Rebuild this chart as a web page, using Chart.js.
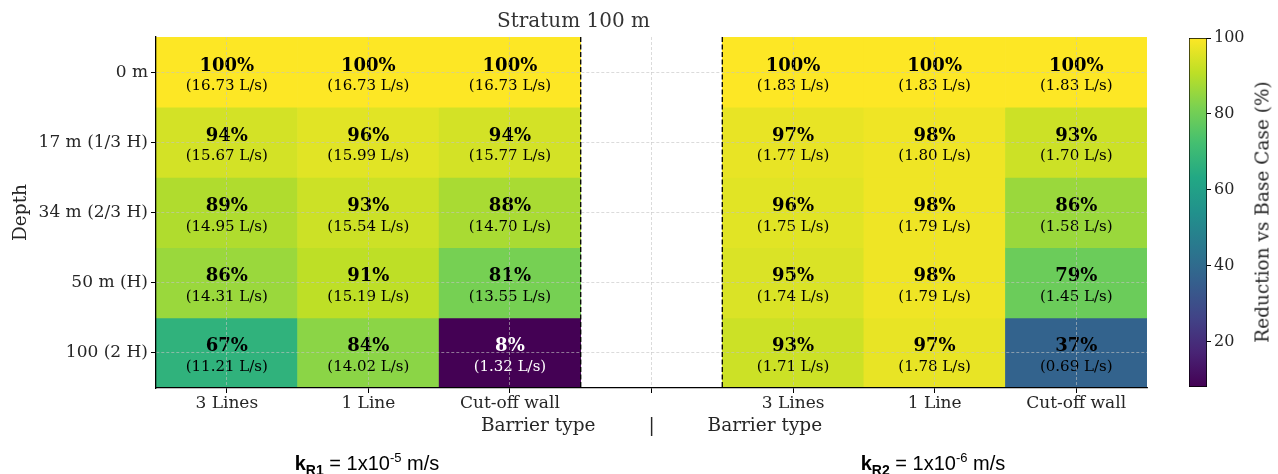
<!DOCTYPE html>
<html><head><meta charset="utf-8">
<script src="https://cdn.jsdelivr.net/npm/chart.js@4"></script>
<style>
html,body{margin:0;padding:0;background:#fff;}
#wrap{position:relative;width:1278px;height:474px;overflow:hidden;background:#fff;}
#main{position:absolute;left:0;top:0;}
#cbar{position:absolute;left:1150px;top:0;}
.k{position:absolute;font-family:'Liberation Sans',Arial,sans-serif;font-size:20px;line-height:24px;color:#000;white-space:nowrap;transform:translateX(-50%);}
.k b{font-weight:bold}
.k .sb{position:relative;top:5px;font-size:14px;font-weight:bold}
.k .sp{position:relative;top:-8px;font-size:13px}
#cbt{position:absolute;font-family:'DejaVu Serif',serif;font-size:18.5px;color:#262626;white-space:nowrap;left:1262px;top:212px;transform:translate(-50%,-50%) rotate(-90deg);}
</style></head>
<body><div id="wrap">
<canvas id="main" width="1278" height="474"></canvas>
<canvas id="cbar" width="128" height="474"></canvas>
<div class="k" style="left:367px;top:451px"><b>k</b><span class="sb">R1</span> = 1x10<span class="sp">-5</span> m/s</div>
<div class="k" style="left:933px;top:451px"><b>k</b><span class="sb">R2</span> = 1x10<span class="sp">-6</span> m/s</div>
<div id="cbt">Reduction vs Base Case (%)</div>
</div>
<script>
// ---- data ----
const depthLabels = ['0 m', '17 m (1/3 H)', '34 m (2/3 H)', '50 m (H)', '100 (2 H)'];
const xTickLabels = ['3 Lines', '1 Line', 'Cut-off wall', '', '3 Lines', '1 Line', 'Cut-off wall'];

const pctKR1_3Lines = [100, 94, 89, 86, 67];
const pctKR1_1Line  = [100, 96, 93, 91, 84];
const pctKR1_Wall   = [100, 94, 88, 81, 8];
const flowKR1_3Lines = [16.73, 15.67, 14.95, 14.31, 11.21];
const flowKR1_1Line  = [16.73, 15.99, 15.54, 15.19, 14.02];
const flowKR1_Wall   = [16.73, 15.77, 14.70, 13.55, 1.32];

const pctKR2_3Lines = [100, 97, 96, 95, 93];
const pctKR2_1Line  = [100, 98, 98, 98, 97];
const pctKR2_Wall   = [100, 93, 86, 79, 37];
const flowKR2_3Lines = [1.83, 1.77, 1.75, 1.74, 1.71];
const flowKR2_1Line  = [1.83, 1.80, 1.79, 1.79, 1.78];
const flowKR2_Wall   = [1.83, 1.70, 1.58, 1.45, 0.69];

const colorbarMin = 8;
const colorbarMax = 100;
const colorbarTicks = [20, 40, 60, 80, 100];

// ---- style helpers ----
const viridisStops = ['#440154','#482475','#414487','#355f8d','#2a788e','#21918c','#22a884','#44bf70','#7ad151','#bddf26','#fde725'];
function hex2rgb(h){return [parseInt(h.slice(1,3),16),parseInt(h.slice(3,5),16),parseInt(h.slice(5,7),16)];}
function viridis(v){
  let t=(v-colorbarMin)/(colorbarMax-colorbarMin); t=Math.max(0,Math.min(1,t));
  const n=viridisStops.length-1; const p=t*n; const i=Math.min(Math.floor(p),n-1); const f=p-i;
  const a=hex2rgb(viridisStops[i]), b=hex2rgb(viridisStops[i+1]);
  const c=a.map((x,k)=>Math.round(x+(b[k]-x)*f));
  return 'rgb('+c.join(',')+')';
}
const SERIF = "'DejaVu Serif', serif";
const TXT = '#262626';

const pctCols = [pctKR1_3Lines, pctKR1_1Line, pctKR1_Wall, null, pctKR2_3Lines, pctKR2_1Line, pctKR2_Wall];
const flowCols = [flowKR1_3Lines, flowKR1_1Line, flowKR1_Wall, null, flowKR2_3Lines, flowKR2_1Line, flowKR2_Wall];

const datasets = depthLabels.map((d, r) => ({
  label: d,
  data: pctCols.map(c => c ? [r, r + 1] : null),
  backgroundColor: pctCols.map(c => c ? viridis(c[r]) : 'rgba(0,0,0,0)'),
  borderWidth: 0,
  barPercentage: 1,
  categoryPercentage: 1,
  grouped: false
}));

const cellLabels = {
  id: 'cellLabels',
  afterDatasetsDraw(chart) {
    const {ctx} = chart; const xs = chart.scales.x, ys = chart.scales.y;
    ctx.save();
    ctx.textAlign = 'center'; ctx.textBaseline = 'alphabetic';
    pctCols.forEach((col, i) => {
      if (!col) return;
      const x = xs.getPixelForValue(i);
      col.forEach((v, r) => {
        const y = ys.getPixelForValue(r + 0.5);
        ctx.fillStyle = v < 30 ? '#ffffff' : '#000000';
        ctx.font = 'bold 18px ' + SERIF;
        ctx.fillText(v + '%', x, y - 1.5);
        ctx.font = '15px ' + SERIF;
        ctx.fillText('(' + flowCols[i][r].toFixed(2) + ' L/s)', x, y + 18);
      });
    });
    ctx.restore();
  }
};

const gapLines = {
  id: 'gapLines',
  afterDraw(chart) {
    const {ctx, chartArea} = chart; const xs = chart.scales.x;
    const gx = [(xs.getPixelForValue(2) + xs.getPixelForValue(3)) / 2, (xs.getPixelForValue(3) + xs.getPixelForValue(4)) / 2];
    ctx.save();
    ctx.strokeStyle = '#000'; ctx.lineWidth = 1.3; ctx.setLineDash([5, 2.5]);
    gx.forEach(x => { ctx.beginPath(); ctx.moveTo(x, chartArea.top); ctx.lineTo(x, chartArea.bottom); ctx.stroke(); });
    ctx.restore();
  }
};

new Chart(document.getElementById('main'), {
  type: 'bar',
  data: { labels: xTickLabels, datasets },
  plugins: [cellLabels, gapLines],
  options: {
    responsive: false, animation: false, events: [],
    layout: { padding: { left: 0, right: 131, top: 0, bottom: 0 } },
    plugins: {
      legend: { display: false }, tooltip: { enabled: false },
      title: { display: true, text: 'Stratum 100 m', color: '#333', font: { family: SERIF, size: 20, weight: 'normal' }, padding: { top: 10, bottom: 3 } }
    },
    scales: {
      x: {
        type: 'category', offset: true,
        grid: { offset: false, color: 'rgba(195,195,195,0.75)', lineWidth: 0.8, tickColor: '#000', tickLength: 5, tickWidth: 1, z: 1 },
        border: { display: true, color: '#000', width: 1.3, dash: [3, 2], z: 1 },
        ticks: { color: TXT, font: { family: SERIF, size: 17 }, padding: 0, maxRotation: 0, autoSkip: false },
        title: { display: true, text: 'Barrier type         |         Barrier type', color: TXT, font: { family: SERIF, size: 18.5 }, padding: { top: 0, bottom: 37 } },
        afterFit(s) { s.height = 86; }
      },
      y: {
        type: 'linear', min: 0, max: 5, reverse: true,
        afterBuildTicks(s) { s.ticks = depthLabels.map((_, i) => ({ value: i + 0.5 })); },
        grid: { color: 'rgba(195,195,195,0.75)', lineWidth: 0.8, tickColor: '#000', tickLength: 5, tickWidth: 1, z: 1 },
        border: { display: true, color: '#000', width: 1.3, dash: [3, 2], z: 1 },
        ticks: { color: TXT, font: { family: SERIF, size: 17 }, padding: 3, callback: (v, i) => depthLabels[i] },
        title: { display: true, text: 'Depth', color: TXT, font: { family: SERIF, size: 18.5 }, padding: { top: 10, bottom: 0 } },
        afterFit(s) { s.width = 156; }
      }
    }
  }
});

new Chart(document.getElementById('cbar'), {
  type: 'bar',
  data: { labels: [''], datasets: [{
    data: [[colorbarMin, colorbarMax]],
    backgroundColor(ctx) {
      const ca = ctx.chart.chartArea; if (!ca) return '#888';
      const g = ctx.chart.ctx.createLinearGradient(0, ca.bottom, 0, ca.top);
      viridisStops.forEach((c, i) => g.addColorStop(i / (viridisStops.length - 1), c));
      return g;
    },
    borderColor: '#000', borderWidth: 1, borderSkipped: false,
    barPercentage: 1, categoryPercentage: 1
  }]},
  options: {
    responsive: false, animation: false, events: [],
    layout: { padding: { left: 39, top: 38, bottom: 87, right: 0 } },
    plugins: { legend: { display: false }, tooltip: { enabled: false }, title: { display: false } },
    scales: {
      x: { display: false, offset: true },
      y: {
        position: 'right', min: colorbarMin, max: colorbarMax,
        afterBuildTicks(s) { s.ticks = colorbarTicks.map(v => ({ value: v })); },
        grid: { drawOnChartArea: false, tickLength: 4, tickColor: '#000', tickWidth: 1 },
        border: { display: false },
        ticks: { color: TXT, font: { family: SERIF, size: 16 }, padding: 3 },
        afterFit(s) { s.width = 71; }
      }
    }
  }
});
</script>
</body></html>
